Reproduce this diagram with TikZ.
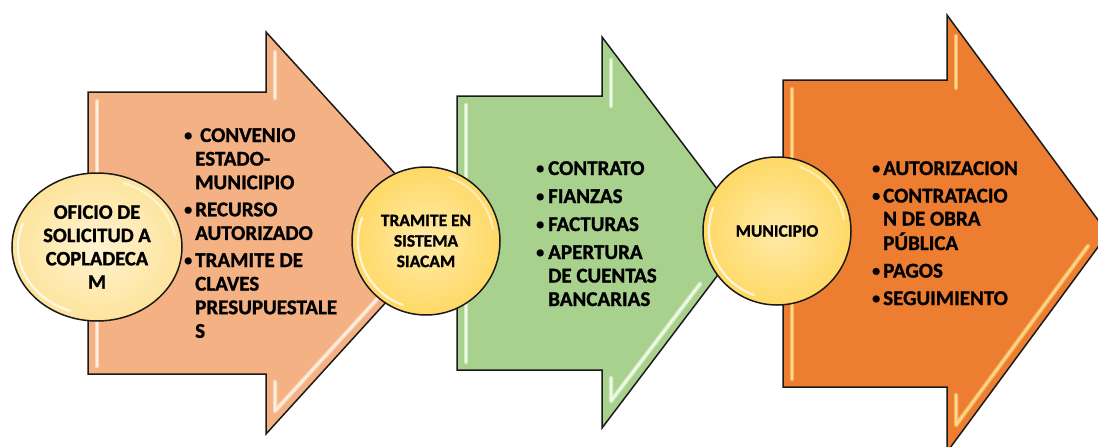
\documentclass[tikz,border=0pt]{standalone}
\usepackage{fontspec}
\setmainfont{Carlito}[BoldFeatures={FakeBold=1.2}]
\usetikzlibrary{shapes.geometric}
\definecolor{peach}{HTML}{F4B183}
\definecolor{leaf}{HTML}{A9D18E}
\definecolor{orng}{HTML}{ED7D31}
\definecolor{peachhi}{HTML}{FFF4E8}
\definecolor{leafhi}{HTML}{F4FFEE}
\definecolor{ornghi}{HTML}{FFE08C}
\definecolor{gold}{HTML}{FFD966}
\definecolor{goldin}{HTML}{FFEBAA}
\definecolor{paleout}{HTML}{FDE49C}
\definecolor{palein}{HTML}{FFF3D2}
\definecolor{outl}{HTML}{1A1A1A}
\newcommand\blt[1]{\makebox[#1][l]{\raisebox{1.6pt}{\fontsize{16}{16}\selectfont •}}}
\tikzset{
  arrowshape/.style={draw=outl, line width=1.5pt, line join=miter},
  bevel/.style={line width=4.5pt, line cap=round, line join=round, opacity=0.55},
  bevelcore/.style={line width=2pt, line cap=round, line join=round, opacity=0.85},
  disc/.style={draw=outl, line width=1.5pt, shading=radial, align=center, font=\bfseries},
  gloss/.style={white, line width=2.2pt, line cap=round, opacity=0.75},
  listtext/.style={inner sep=0pt, anchor=base west, align=left}
}
\begin{document}
\begin{tikzpicture}[x=1pt,y=-1pt]
\useasboundingbox (0,0) rectangle (1098,447);
\clip (0,0) rectangle (1098,447);
\fill[white] (0,0) rectangle (1098,447);

% arrow 1
\draw[arrowshape, fill=peach] (88,92) -- (266,92) -- (266,32) -- (449,233) -- (266,434) -- (266,374) -- (88,374) -- cycle;
\foreach \s in {bevel,bevelcore}{
  \draw[\s, peachhi] (97,101) -- (97,366);
  \draw[\s, peachhi] (275,52) -- (275,98);
  \draw[\s, peachhi] (275,382) -- (275,411) -- (400,274);
}
% arrow 2
\draw[arrowshape, fill=leaf] (457,96) -- (602,96) -- (602,37) -- (750,232.5) -- (602,428) -- (602,370) -- (457,370) -- cycle;
\foreach \s in {bevel,bevelcore}{
  \draw[\s, leafhi] (466,105) -- (466,362);
  \draw[\s, leafhi] (611,60) -- (611,106);
  \draw[\s, leafhi] (611,378) -- (611,401) -- (700,284);
}
% arrow 3
\draw[arrowshape, fill=orng] (783,80) -- (947,80) -- (947,15) -- (1108,233.5) -- (947,452) -- (947,387) -- (783,387) -- cycle;
\foreach \s in {bevel,bevelcore}{
  \draw[\s, ornghi] (792,89) -- (792,379);
  \draw[\s, ornghi] (956,36) -- (956,88);
  \draw[\s, ornghi] (956,395) -- (956,425) -- (1088,246);
}

% circles
\node[disc, ellipse, minimum width=170pt, minimum height=148pt, inner color=palein, outer color=paleout,
      font=\fontsize{20.5}{23.3}\selectfont\bfseries] (c1) at (97,247)
  {OFICIO DE\\SOLICITUD A\\COPLADECA\\M};
\draw[gloss] (97,247) ++(110:79 and 68) arc[start angle=110, end angle=200, x radius=79, y radius=68];
\draw[gloss, opacity=0.5] (97,247) ++(290:79 and 68) arc[start angle=290, end angle=350, x radius=79, y radius=68];

\node[disc, circle, minimum size=148pt, inner color=goldin, outer color=gold,
      font=\fontsize{17.5}{20.5}\selectfont\bfseries] (c2) at (426,241)
  {TRAMITE EN\\SISTEMA\\SIACAM};
\draw[gloss] (426,241) ++(110:68) arc[start angle=110, end angle=200, radius=68];
\draw[gloss, opacity=0.5] (426,241) ++(290:68) arc[start angle=290, end angle=350, radius=68];

\node[disc, circle, minimum size=148pt, inner color=goldin, outer color=gold,
      font=\fontsize{17.5}{20.5}\selectfont\bfseries] (c3) at (777,231)
  {MUNICIPIO};
\draw[gloss] (777,231) ++(110:68) arc[start angle=110, end angle=200, radius=68];
\draw[gloss, opacity=0.5] (777,231) ++(290:68) arc[start angle=290, end angle=350, radius=68];

% lists
\node[listtext, font=\fontsize{21}{23.6}\selectfont\bfseries] (l1) at (184,142)
  {\begin{tabular}[t]{@{}l@{}l@{}}
   \blt{11pt} & \hspace{5pt}CONVENIO\\ & ESTADO-\\ & MUNICIPIO\\[3.5pt]
   \blt{11pt} & RECURSO\\ & AUTORIZADO\\[3.5pt]
   \blt{11pt} & TRAMITE DE\\ & CLAVES\\ & PRESUPUESTALE\\ & S
   \end{tabular}};
\node[listtext, font=\fontsize{21}{23.5}\selectfont\bfseries] (l2) at (536,175)
  {\begin{tabular}[t]{@{}l@{}l@{}}
   \blt{12pt} & CONTRATO\\[4.5pt]
   \blt{12pt} & FIANZAS\\[4.5pt]
   \blt{12pt} & FACTURAS\\[4.5pt]
   \blt{12pt} & APERTURA\\ & DE CUENTAS\\ & BANCARIAS
   \end{tabular}};
\node[listtext, font=\fontsize{21}{23}\selectfont\bfseries] (l3) at (872,175)
  {\begin{tabular}[t]{@{}l@{}l@{}}
   \blt{11pt} & AUTORIZACION\\[4.5pt]
   \blt{11pt} & CONTRATACIO\\ & N DE OBRA\\ & PÚBLICA\\[4.5pt]
   \blt{11pt} & PAGOS\\[4.5pt]
   \blt{11pt} & SEGUIMIENTO
   \end{tabular}};
\end{tikzpicture}
\end{document}
